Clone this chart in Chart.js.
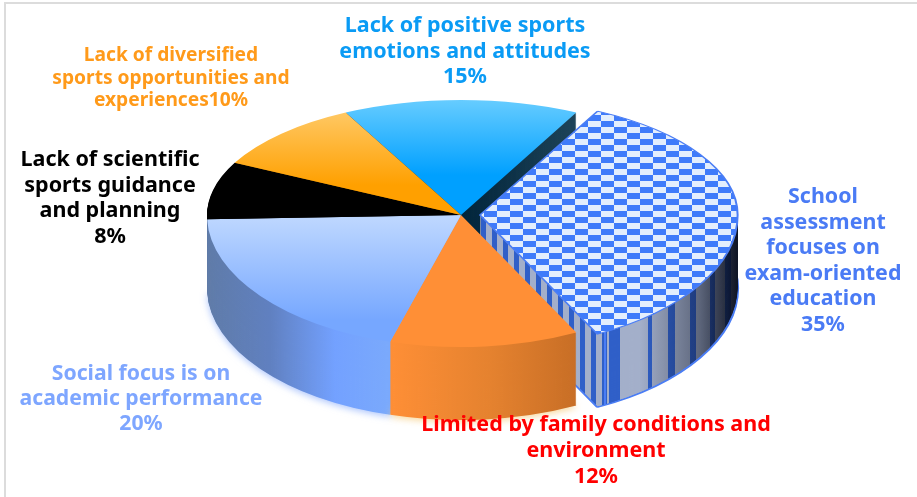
<!DOCTYPE html>
<html>
<head>
<meta charset="utf-8">
<script src="https://cdn.jsdelivr.net/npm/chart.js@4"></script>
<style>
    html, body { margin: 0; padding: 0; background: #fff; overflow: hidden; }
    #frame { position: relative; width: 917px; height: 497px; }
    #frame::before {
        content: ''; position: absolute; left: 4px; top: 2px; right: 0; bottom: 0;
        border-left: 2px solid #dcdcdc; border-top: 2px solid #dcdcdc;
    }
    canvas { position: absolute; left: 0; top: 0; }
</style>
</head>
<body>
<div id="frame"><canvas id="chart" width="917" height="497"></canvas></div>
<script>
// Chart values, clockwise from the light blue slice
const categories = [
    'Lack of positive sports emotions and attitudes',
    'School assessment focuses on exam-oriented education',
    'Limited by family conditions and environment',
    'Social focus is on academic performance',
    'Lack of scientific sports guidance and planning',
    'Lack of diversified sports opportunities and experiences'
];
const shares = [15, 35, 12, 20, 8, 10];
const labelLines = [
    ['Lack of positive sports', 'emotions and attitudes', '15%'],
    ['School', 'assessment', 'focuses on', 'exam-oriented', 'education', '35%'],
    ['Limited by family conditions and', 'environment', '12%'],
    ['Social focus is on', 'academic performance', '20%'],
    ['Lack of scientific', 'sports guidance', 'and planning', '8%'],
    ['Lack of diversified', 'sports opportunities and', 'experiences10%']
];

// Where the label blocks sit: centre x, first line y, line step, font size, colour
const labelStyle = [
    { x: 465, y: 26, step: 25.5, size: 21.5, color: '#0a9bf5' },
    { x: 823, y: 197, step: 25.6, size: 21.4, color: '#4a7bf5' },
    { x: 596, y: 425, step: 26, size: 21.5, color: '#ff0000' },
    { x: 141, y: 374, step: 25, size: 21.2, color: '#7ea6ff' },
    { x: 110, y: 160, step: 25.6, size: 21.5, color: '#000000' },
    { x: 171, y: 56, step: 22.5, size: 19.2, color: '#ff9a1a' }
];

const W = 917, H = 497;
const centerX = 461, centerY = 215;   // apex of the pie on screen
const radius = 254;
const rearSquash = 115 / radius;      // back half is flatter than the front half (perspective)
const frontSquash = 132 / radius;
const depth = 73;
const FONT = '"Noto Sans", sans-serif';

// Fills are painted in screen coordinates and then pinned to the screen with a pattern
// transform, so the tilt does not distort them
function screenPattern(paint) {
    const c = document.createElement('canvas');
    c.width = W;
    c.height = H;
    const g = c.getContext('2d');
    paint(g);
    return g.createPattern(c, 'no-repeat');
}

function vertical(y0, y1, stops) {
    return screenPattern(g => {
        const grad = g.createLinearGradient(0, y0, 0, y1);
        stops.forEach((s, i) => grad.addColorStop(i / (stops.length - 1), s));
        g.fillStyle = grad;
        g.fillRect(0, 0, W, H);
    });
}

function horizontal(stopList) {
    return screenPattern(g => {
        const grad = g.createLinearGradient(stopList[0][0], 0, stopList[stopList.length - 1][0], 0);
        const span = stopList[stopList.length - 1][0] - stopList[0][0];
        stopList.forEach(s => grad.addColorStop((s[0] - stopList[0][0]) / span, s[1]));
        g.fillStyle = grad;
        g.fillRect(0, 0, W, H);
    });
}

const checkerFill = screenPattern(g => {
    g.fillStyle = '#e3eefd';
    g.fillRect(0, 0, W, H);
    g.fillStyle = '#3f7bfa';
    for (let row = 0; row * 6 < H; row++) {
        for (let col = 0; col * 13 < W; col++) {
            if ((row + col) % 2 === 0) g.fillRect(col * 13 + 3, row * 6 + 1, 13, 6);
        }
    }
});

// Striped wall of the pulled-out slice, going dark towards the right
const stripeWall = screenPattern(g => {
    g.fillStyle = '#a3afca';
    g.fillRect(0, 0, W, H);
    g.fillStyle = '#2f5fc8';
    for (let x = 481; x < 604; x += 11) g.fillRect(x, 0, 5, H);
    const rimWidths = [5, 11, 28, 4, 16, 7, 15, 6, 14, 5, 10, 6, 8, 5, 7, 5, 8];
    let x = 604;
    rimWidths.forEach((w, i) => {
        if (i % 2 === 1) g.fillRect(x, 0, w, H);
        x += w;
    });
    g.fillStyle = '#4a7df5';
    g.fillRect(604, 0, 2, H);
    const shade = g.createLinearGradient(640, 0, 738, 0);
    shade.addColorStop(0, 'rgba(10,15,30,0)');
    shade.addColorStop(0.6, 'rgba(10,15,30,0.45)');
    shade.addColorStop(1, 'rgba(5,10,25,0.95)');
    g.fillStyle = shade;
    g.fillRect(0, 0, W, H);
});

const topFills = [
    vertical(100, 175, ['#66ccff', '#00a0ff']),
    checkerFill,
    vertical(0, H, ['#ff8f36', '#ff8f36']),
    vertical(220, 320, ['#bcd6ff', '#76a7ff']),
    vertical(0, H, ['#000000', '#000000']),
    vertical(112, 185, ['#ffc864', '#ffa000'])
];

const wallFills = [
    horizontal([[460, '#00233a'], [571, '#1c4257']]),
    stripeWall,
    horizontal([[387, '#ff8f36'], [490, '#e5822f'], [581, '#c66d25']]),
    horizontal([[207, '#5f7ba8'], [270, '#6080c0'], [335, '#73a1ff'], [387, '#7aa9fc']]),
    vertical(0, H, ['#000000', '#000000']),
    vertical(0, H, ['#a86a00', '#a86a00'])
];

// back to front, the walls of the front slices must cover the others
const wallOrder = [0, 5, 4, 1, 3, 2];
const wallGlow = ['', '', 'rgba(245,205,130,0.8)', 'rgba(120,160,250,0.6)', '', ''];

function drawTilted(ctx, arc, fill, dy, override) {
    const clone = Object.create(arc);
    clone.options = Object.assign({}, arc.options, { backgroundColor: fill }, override);
    const mid = (arc.startAngle + arc.endAngle) / 2;
    const shift = (arc.options.offset || 0) / 4;
    const seam = centerY + dy;

    [[0, seam, rearSquash], [seam, H - seam, frontSquash]].forEach(([top, h, squash]) => {
        ctx.save();
        ctx.beginPath();
        ctx.rect(0, top, W, h);
        ctx.clip();
        ctx.translate(centerX, seam);
        ctx.scale(1, squash);
        ctx.translate(-arc.x, -arc.y);
        const m = ctx.getTransform();
        m.translateSelf(Math.cos(mid) * shift, Math.sin(mid) * shift);
        fill.setTransform(m.inverse());
        clone.draw(ctx);
        ctx.restore();
    });
}

const tiltedPie = {
    id: 'tiltedPie',
    beforeDatasetsDraw(chart) {
        const ctx = chart.ctx;
        const arcs = chart.getDatasetMeta(0).data;

        wallOrder.forEach(i => {
            for (let dy = depth; dy >= 1; dy--) {
                const lastLayer = dy === depth;
                ctx.save();
                if (lastLayer && wallGlow[i]) {
                    ctx.shadowColor = wallGlow[i];
                    ctx.shadowBlur = 7;
                    ctx.shadowOffsetY = 2;
                }
                const edge = lastLayer && i === 1
                    ? { borderWidth: 3 }
                    : { borderWidth: 0 };
                drawTilted(ctx, arcs[i], wallFills[i], dy, edge);
                ctx.restore();
            }
        });

        arcs.forEach((arc, i) => drawTilted(ctx, arc, topFills[i], 0, {}));
        return false;
    },
    afterDraw(chart) {
        const ctx = chart.ctx;
        ctx.save();
        ctx.textAlign = 'center';
        ctx.textBaseline = 'middle';
        labelLines.forEach((lines, i) => {
            const s = labelStyle[i];
            ctx.font = '700 ' + s.size + 'px ' + FONT;
            ctx.fillStyle = s.color;
            lines.forEach((line, n) => ctx.fillText(line, s.x, s.y + n * s.step));
        });
        ctx.restore();
    }
};

new Chart(document.getElementById('chart'), {
    type: 'pie',
    data: {
        labels: categories,
        datasets: [{
            data: shares,
            backgroundColor: topFills,
            borderColor: '#4a7df5',
            borderWidth: [0, 2, 0, 0, 0, 0],
            offset: [0, 76, 0, 0, 0, 0],
            radius: radius
        }]
    },
    options: {
        responsive: false,
        animation: false,
        rotation: -27,
        events: [],
        plugins: { legend: { display: false }, tooltip: { enabled: false } }
    },
    plugins: [tiltedPie]
});
</script>
</body>
</html>
